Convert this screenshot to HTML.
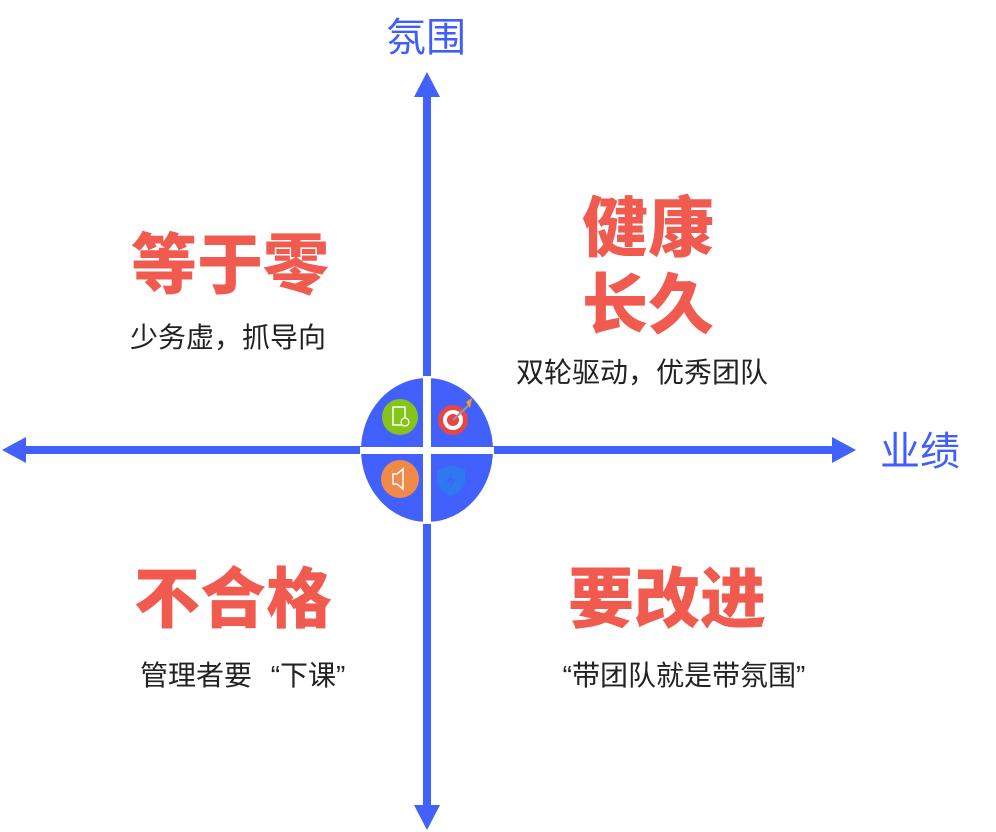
<!DOCTYPE html>
<html><head><meta charset="utf-8"><style>
body{margin:0;width:996px;height:832px;background:#fff;overflow:hidden;position:relative;font-family:"Liberation Sans","Noto Sans CJK SC",sans-serif}
.t{position:absolute;white-space:nowrap}
.big{color:#f05a4f;font-weight:900;font-size:66px;line-height:1}
.s{color:#222;font-size:28px;line-height:1}
.ax{color:#3f5efb;font-size:40px;line-height:1}
.qo{display:inline-block;width:28px;text-align:right}
.qc{display:inline-block;width:28px;text-align:left}
</style></head><body>
<svg width="996" height="832" style="position:absolute;left:0;top:0">
<rect x="423" y="94" width="8" height="714" fill="#4260fb"/>
<polygon points="427,72 414,97 440,97" fill="#4260fb"/>
<polygon points="427,830 414,805 440,805" fill="#4260fb"/>
<rect x="24" y="446" width="810" height="8" fill="#4260fb"/>
<polygon points="2,450 26,437 26,463" fill="#4260fb"/>
<polygon points="856,450 832,437 832,463" fill="#4260fb"/>
<ellipse cx="427" cy="450" rx="66" ry="72" fill="#4260fb"/>
<rect x="423" y="376" width="8" height="148" fill="#fff"/>
<rect x="360" y="447" width="134" height="7" fill="#fff"/>
<circle cx="400" cy="417" r="18" fill="#85c51a"/>
<rect x="393" y="407" width="12" height="18" fill="none" stroke="#fff" stroke-width="1.5"/>
<circle cx="405" cy="422" r="4" fill="#85c51a" stroke="#fff" stroke-width="1.2"/>
<circle cx="453" cy="420" r="15" fill="#e84545"/>
<circle cx="453" cy="420" r="10" fill="#fff"/>
<circle cx="453" cy="420" r="6" fill="#e84545"/>
<line x1="453" y1="420" x2="470" y2="404" stroke="#999" stroke-width="2"/>
<polygon points="466,402 472,398 470,408" fill="#f0a020"/>
<circle cx="400" cy="479" r="19" fill="#ef8a4a"/>
<polygon points="393,474 397,474 403,469 403,489 397,484 393,484" fill="none" stroke="#fff" stroke-width="1.5"/>
<path d="M451,465 l14,5 v10 q0,10 -14,16 q-14,-6 -14,-16 v-10 z" fill="#2f78f0"/>
<polygon points="453,472 446,482 451,482 449,490 456,479 451,479" fill="#3f64fb"/>
</svg>
<div class="t ax" style="left:386px;top:18px">氛围</div>
<div class="t ax" style="left:880px;top:432px">业绩</div>
<div class="t big" style="left:131px;top:232px">等于零</div>
<div class="t s" style="left:130px;top:324px">少务虚，抓导向</div>
<div class="t big" style="left:582px;top:195px">健康</div>
<div class="t big" style="left:582px;top:272px">长久</div>
<div class="t s" style="left:516px;top:359px">双轮驱动，优秀团队</div>
<div class="t big" style="left:134px;top:566px">不合格</div>
<div class="t s" style="left:140px;top:662px">管理者要<span class="qo">“</span>下课<span class="qc">”</span></div>
<div class="t big" style="left:568px;top:566px">要改进</div>
<div class="t s" style="left:544px;top:662px"><span class="qo">“</span>带团队就是带氛围<span class="qc">”</span></div>
</body></html>
